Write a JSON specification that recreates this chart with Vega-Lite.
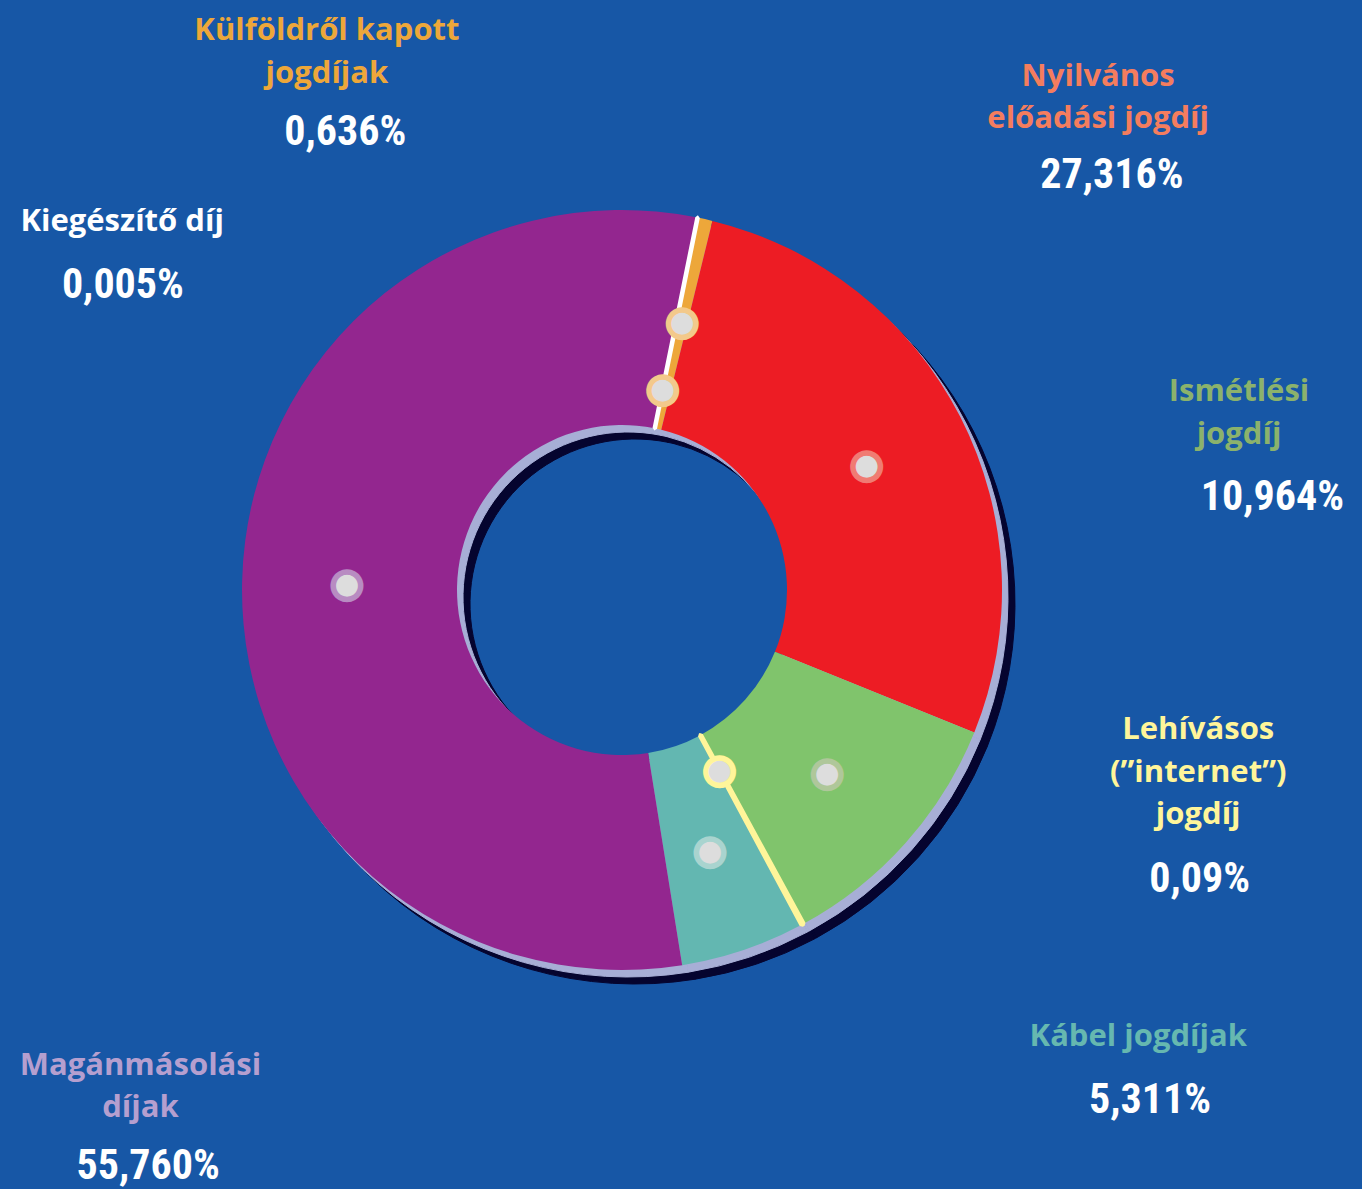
{
  "$schema": "https://vega.github.io/schema/vega-lite/v6.json",
  "width": 1244,
  "height": 1180,
  "autosize": "none",
  "padding": {"left": 0, "top": 0, "right": 118, "bottom": 9},
  "background": "#1757A6",
  "config": {"view": {"stroke": null}},
  "data": {
    "values": [
      {"rank": 1, "category": "Kiegészítő díj", "label": "Kiegészítő díj", "pct": "0,005%", "value": 0.005},
      {"rank": 2, "category": "Külföldről kapott jogdíjak", "label": "Külföldről kapott\njogdíjak", "pct": "0,636%", "value": 0.636},
      {"rank": 3, "category": "Nyilvános előadási jogdíj", "label": "Nyilvános\nelőadási jogdíj", "pct": "27,316%", "value": 27.316},
      {"rank": 4, "category": "Ismétlési jogdíj", "label": "Ismétlési\njogdíj", "pct": "10,964%", "value": 10.964},
      {"rank": 5, "category": "Lehívásos (”internet”) jogdíj", "label": "Lehívásos\n(”internet”)\njogdíj", "pct": "0,09%", "value": 0.09},
      {"rank": 6, "category": "Kábel jogdíjak", "label": "Kábel jogdíjak", "pct": "5,311%", "value": 5.311},
      {"rank": 7, "category": "Magánmásolási díjak", "label": "Magánmásolási\ndíjak", "pct": "55,760%", "value": 55.76}
    ]
  },
  "encoding": {
    "theta": {"field": "value", "type": "quantitative", "stack": true, "scale": {"range": [0.2, 6.48319]}},
    "order": {"field": "rank", "type": "quantitative"}
  },
  "layer": [
    {"mark": {"type": "arc", "innerRadius": 165, "outerRadius": 380, "xOffset": 13, "yOffset": 14, "color": "#05042F", "stroke": "#05042F", "strokeWidth": 1}},
    {"mark": {"type": "arc", "innerRadius": 165, "outerRadius": 380, "xOffset": 6, "yOffset": 7, "color": "#A7AED6", "stroke": "#A7AED6", "strokeWidth": 1}},
    {
      "mark": {"type": "arc", "innerRadius": 165, "outerRadius": 380},
      "encoding": {
        "color": {
          "field": "category", "type": "nominal", "legend": null,
          "scale": {
            "domain": ["Kiegészítő díj", "Külföldről kapott jogdíjak", "Nyilvános előadási jogdíj", "Ismétlési jogdíj", "Lehívásos (”internet”) jogdíj", "Kábel jogdíjak", "Magánmásolási díjak"],
            "range": ["#FFFFFF", "#EDA73A", "#ED1C24", "#80C46C", "#FFF59A", "#63B7B1", "#93268F"]
          }
        }
      }
    },
    {
      "mark": {"type": "arc", "innerRadius": 165, "outerRadius": 380, "fill": "#FFFFFF", "fillOpacity": 0, "strokeWidth": 4.5, "strokeJoin": "bevel"},
      "encoding": {
        "stroke": {"condition": {"test": "datum.rank === 5", "value": "#FFF59A"}, "value": "#FFFFFF"},
        "strokeOpacity": {"condition": {"test": "datum.rank === 1 || datum.rank === 5", "value": 1}, "value": 0}
      }
    },
    {
      "mark": {"type": "text", "radius": 275, "font": "DejaVu Sans", "fontSize": 36, "align": "center", "baseline": "middle", "fill": "#DDDDDD", "strokeWidth": 5.5},
      "encoding": {
        "text": {"condition": {"test": "datum.rank !== 1 && datum.rank !== 5", "value": "●"}, "value": ""},
        "stroke": {
          "field": "category", "type": "nominal", "legend": null,
          "scale": {
            "domain": ["Kiegészítő díj", "Külföldről kapott jogdíjak", "Nyilvános előadási jogdíj", "Ismétlési jogdíj", "Lehívásos (”internet”) jogdíj", "Kábel jogdíjak", "Magánmásolási díjak"],
            "range": ["#F3C98B", "#F3C98B", "#F07B73", "#AFC79A", "#FFF59A", "#A9D4CF", "#B88CC2"]
          }
        }
      }
    },
    {
      "mark": {"type": "text", "radius": 205, "font": "DejaVu Sans", "fontSize": 36, "align": "center", "baseline": "middle", "fill": "#DDDDDD", "strokeWidth": 5.5},
      "encoding": {
        "text": {"condition": {"test": "datum.rank === 1 || datum.rank === 5", "value": "●"}, "value": ""},
        "stroke": {"field": "category", "type": "nominal", "legend": null}
      }
    },
    {
      "mark": {"type": "text", "radius": 621, "thetaOffset": -1.1357, "font": "Open Sans", "fontWeight": "bold", "fontSize": 31, "lineHeight": 42.5, "lineBreak": "\n", "align": "center", "baseline": "middle", "color": "#FFFFFF"},
      "encoding": {"text": {"condition": {"test": "datum.rank === 1", "field": "label", "type": "nominal"}, "value": ""}}
    },
    {
      "mark": {"type": "text", "radius": 585, "thetaOffset": -1.2223, "font": "Roboto Condensed, Roboto", "fontWeight": "bold", "fontSize": 42, "align": "center", "baseline": "middle", "color": "#FFFFFF"},
      "encoding": {"text": {"condition": {"test": "datum.rank === 1", "field": "pct", "type": "nominal"}, "value": ""}}
    },
    {
      "mark": {"type": "text", "radius": 632, "thetaOffset": -0.7060, "font": "Open Sans", "fontWeight": "bold", "fontSize": 31, "lineHeight": 42.5, "lineBreak": "\n", "align": "center", "baseline": "middle", "color": "#EDA73A"},
      "encoding": {"text": {"condition": {"test": "datum.rank === 2", "field": "label", "type": "nominal"}, "value": ""}}
    },
    {
      "mark": {"type": "text", "radius": 535, "thetaOffset": -0.7639, "font": "Roboto Condensed, Roboto", "fontWeight": "bold", "fontSize": 42, "align": "center", "baseline": "middle", "color": "#FFFFFF"},
      "encoding": {"text": {"condition": {"test": "datum.rank === 2", "field": "pct", "type": "nominal"}, "value": ""}}
    },
    {
      "mark": {"type": "text", "radius": 700, "thetaOffset": -0.3496, "font": "Open Sans", "fontWeight": "bold", "fontSize": 31, "lineHeight": 42.5, "lineBreak": "\n", "align": "center", "baseline": "middle", "color": "#F47D5E"},
      "encoding": {"text": {"condition": {"test": "datum.rank === 3", "field": "label", "type": "nominal"}, "value": ""}}
    },
    {
      "mark": {"type": "text", "radius": 642, "thetaOffset": -0.2296, "font": "Roboto Condensed, Roboto", "fontWeight": "bold", "fontSize": 42, "align": "center", "baseline": "middle", "color": "#FFFFFF"},
      "encoding": {"text": {"condition": {"test": "datum.rank === 3", "field": "pct", "type": "nominal"}, "value": ""}}
    },
    {
      "mark": {"type": "text", "radius": 648, "thetaOffset": -1.0390, "font": "Open Sans", "fontWeight": "bold", "fontSize": 31, "lineHeight": 42.5, "lineBreak": "\n", "align": "center", "baseline": "middle", "color": "#8BB26C"},
      "encoding": {"text": {"condition": {"test": "datum.rank === 4", "field": "label", "type": "nominal"}, "value": ""}}
    },
    {
      "mark": {"type": "text", "radius": 657, "thetaOffset": -0.8706, "font": "Roboto Condensed, Roboto", "fontWeight": "bold", "fontSize": 42, "align": "center", "baseline": "middle", "color": "#FFFFFF"},
      "encoding": {"text": {"condition": {"test": "datum.rank === 4", "field": "pct", "type": "nominal"}, "value": ""}}
    },
    {
      "mark": {"type": "text", "radius": 593, "thetaOffset": -0.8370, "font": "Open Sans", "fontWeight": "bold", "fontSize": 31, "lineHeight": 42.5, "lineBreak": "\n", "align": "center", "baseline": "middle", "color": "#FFF59A"},
      "encoding": {"text": {"condition": {"test": "datum.rank === 5", "field": "label", "type": "nominal"}, "value": ""}}
    },
    {
      "mark": {"type": "text", "radius": 646, "thetaOffset": -0.6110, "font": "Roboto Condensed, Roboto", "fontWeight": "bold", "fontSize": 42, "align": "center", "baseline": "middle", "color": "#FFFFFF"},
      "encoding": {"text": {"condition": {"test": "datum.rank === 5", "field": "pct", "type": "nominal"}, "value": ""}}
    },
    {
      "mark": {"type": "text", "radius": 683, "thetaOffset": -0.5312, "font": "Open Sans", "fontWeight": "bold", "fontSize": 31, "lineHeight": 42.5, "lineBreak": "\n", "align": "center", "baseline": "middle", "color": "#66B8B0"},
      "encoding": {"text": {"condition": {"test": "datum.rank === 6", "field": "label", "type": "nominal"}, "value": ""}}
    },
    {
      "mark": {"type": "text", "radius": 734, "thetaOffset": -0.4770, "font": "Roboto Condensed, Roboto", "fontWeight": "bold", "fontSize": 42, "align": "center", "baseline": "middle", "color": "#FFFFFF"},
      "encoding": {"text": {"condition": {"test": "datum.rank === 6", "field": "pct", "type": "nominal"}, "value": ""}}
    },
    {
      "mark": {"type": "text", "radius": 677, "thetaOffset": -0.8000, "font": "Open Sans", "fontWeight": "bold", "fontSize": 31, "lineHeight": 42.5, "lineBreak": "\n", "align": "center", "baseline": "middle", "color": "#B59FCF"},
      "encoding": {"text": {"condition": {"test": "datum.rank === 7", "field": "label", "type": "nominal"}, "value": ""}}
    },
    {
      "mark": {"type": "text", "radius": 746, "thetaOffset": -0.9030, "font": "Roboto Condensed, Roboto", "fontWeight": "bold", "fontSize": 42, "align": "center", "baseline": "middle", "color": "#FFFFFF"},
      "encoding": {"text": {"condition": {"test": "datum.rank === 7", "field": "pct", "type": "nominal"}, "value": ""}}
    }
  ]
}
